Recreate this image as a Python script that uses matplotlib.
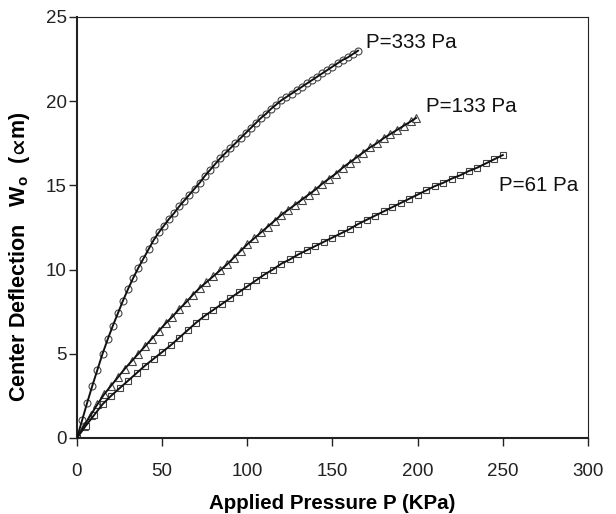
import matplotlib
matplotlib.use("Agg")
import matplotlib.pyplot as plt

plt.rcParams['font.family'] = ['Liberation Sans', 'DejaVu Sans']
plt.rcParams['mathtext.fontset'] = 'custom'
plt.rcParams['mathtext.rm'] = 'Liberation Sans'
plt.rcParams['mathtext.bf'] = 'Liberation Sans:bold'
plt.rcParams['mathtext.fallback'] = 'stixsans'

# P = 333 Pa (circles)
x333 = [0, 3, 6, 9, 12, 15, 18, 21, 24, 27, 30, 33, 36, 39, 42, 45, 48, 51, 54, 57,
        60, 63, 66, 69, 72, 75, 78, 81, 84, 87, 90, 93, 96, 99, 102, 105, 108, 111,
        114, 117, 120, 123, 126, 129, 132, 135, 138, 141, 144, 147, 150, 153, 156,
        159, 162, 165]
y333 = [0, 1.05, 2.1, 3.1, 4.05, 5.0, 5.85, 6.65, 7.4, 8.15, 8.85, 9.5, 10.1, 10.65,
        11.2, 11.75, 12.2, 12.6, 13.0, 13.35, 13.75, 14.1, 14.45, 14.8, 15.15, 15.55,
        15.9, 16.25, 16.6, 16.9, 17.2, 17.5, 17.8, 18.1, 18.4, 18.7, 19.0, 19.25,
        19.55, 19.8, 20.05, 20.25, 20.45, 20.65, 20.85, 21.05, 21.25, 21.45, 21.65,
        21.85, 22.05, 22.25, 22.45, 22.6, 22.8, 23.0]

# P = 133 Pa (triangles)
x133 = [0, 4, 8, 12, 16, 20, 24, 28, 32, 36, 40, 44, 48, 52, 56, 60, 64, 68, 72, 76,
        80, 84, 88, 92, 96, 100, 104, 108, 112, 116, 120, 124, 128, 132, 136, 140,
        144, 148, 152, 156, 160, 164, 168, 172, 176, 180, 184, 188, 192, 196, 199]
y133 = [0, 0.7, 1.35, 2.0, 2.6, 3.1, 3.6, 4.1, 4.55, 5.0, 5.45, 5.9, 6.35, 6.8, 7.2,
        7.65, 8.05, 8.5, 8.9, 9.25, 9.6, 9.95, 10.3, 10.7, 11.1, 11.5, 11.85, 12.2,
        12.55, 12.9, 13.25, 13.55, 13.85, 14.15, 14.45, 14.75, 15.1, 15.4, 15.7,
        16.05, 16.35, 16.65, 16.95, 17.25, 17.5, 17.8, 18.05, 18.3, 18.55, 18.8, 19.0]

# P = 61 Pa (squares)
x61 = [0, 5, 10, 15, 20, 25, 30, 35, 40, 45, 50, 55, 60, 65, 70, 75, 80, 85, 90, 95,
       100, 105, 110, 115, 120, 125, 130, 135, 140, 145, 150, 155, 160, 165, 170,
       175, 180, 185, 190, 195, 200, 205, 210, 215, 220, 225, 230, 235, 240, 245, 250]
y61 = [0, 0.7, 1.35, 2.0, 2.5, 2.95, 3.4, 3.85, 4.3, 4.7, 5.1, 5.5, 5.95, 6.4, 6.85,
       7.25, 7.6, 7.95, 8.3, 8.65, 9.0, 9.35, 9.7, 10.0, 10.35, 10.6, 10.9, 11.15,
       11.4, 11.65, 11.9, 12.15, 12.4, 12.7, 12.95, 13.2, 13.45, 13.7, 13.95, 14.2,
       14.45, 14.7, 14.95, 15.15, 15.4, 15.6, 15.85, 16.05, 16.3, 16.55, 16.8]

labels = ["P=333 Pa", "P=133 Pa", "P=61 Pa"]
label_pos = [(169.5, 23.5), (205, 19.7), (247.5, 15.0)]

fig = plt.figure(figsize=(6.16, 5.14), dpi=100)
ax = fig.add_axes([0.125, 0.148, 0.8295, 0.819])

series = [(x333, y333, 'o', 5.0), (x133, y133, '^', 6.0), (x61, y61, 's', 4.8)]
for xs, ys, m, ms in series:
    ax.plot(xs, ys, linestyle='none', marker=m, markersize=ms, markerfacecolor='white',
            markeredgecolor='#444444', markeredgewidth=0.8, zorder=2)
    ax.plot(xs, ys, color='#111111', linewidth=1.4, zorder=3)

for lab, (lx, ly) in zip(labels, label_pos):
    ax.text(lx, ly, lab, fontsize=14.8, ha='left', va='center', color='#111111')

ax.set_xlim(0, 300)
ax.set_ylim(0, 25)
ax.set_xticks([0, 50, 100, 150, 200, 250, 300])
ax.set_yticks([0, 5, 10, 15, 20, 25])
ax.tick_params(axis='both', direction='out', length=6, width=1.0, labelsize=13.5,
               colors='#222222')
ax.tick_params(axis='x', pad=12)
ax.tick_params(axis='y', pad=1.5)

for s in ['left', 'bottom']:
    ax.spines[s].set_linewidth(1.5)
    ax.spines[s].set_color('#222222')
for s in ['top', 'right']:
    ax.spines[s].set_linewidth(0.8)
    ax.spines[s].set_color('#222222')

ax.set_xlabel('Applied Pressure P (KPa)', fontsize=14.8, fontweight='bold', labelpad=10)
ax.set_ylabel('Center Deflection   W$_\\mathbf{o}$  ($\\!\\mathbf{\\propto}\\!$m)',
              fontsize=15.5, fontweight='bold')
ax.yaxis.set_label_coords(-0.088, 0.43)

fig.savefig('out.png', dpi=100)
